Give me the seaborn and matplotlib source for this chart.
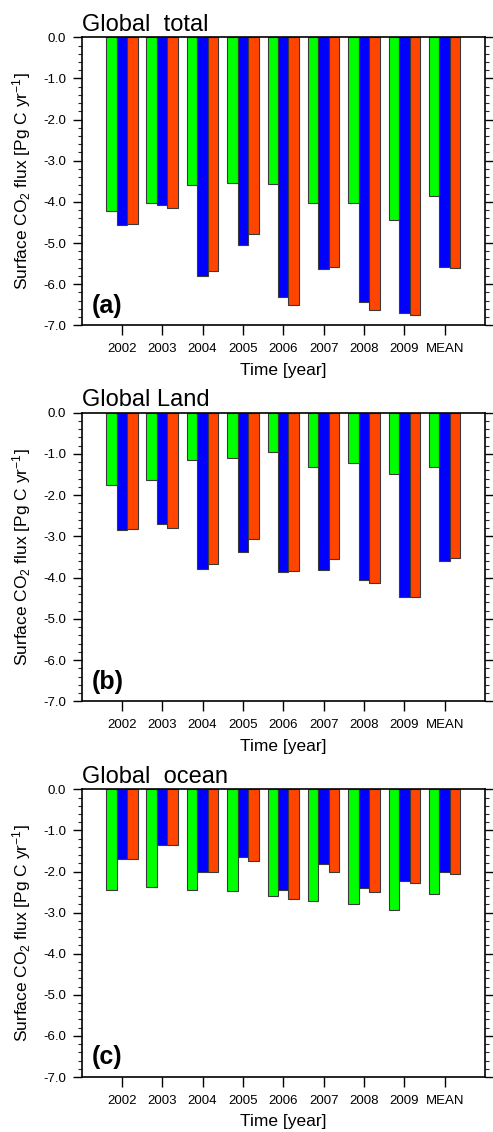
import numpy as np
import pandas as pd
import matplotlib
matplotlib.use("Agg")
import matplotlib.pyplot as plt
import seaborn as sns
from matplotlib.ticker import MultipleLocator, FormatStrFormatter

# ---------------- data ----------------
categories = ["2002", "2003", "2004", "2005", "2006", "2007", "2008", "2009", "MEAN"]
series = ["run1", "run2", "run3"]
colors = ["#00FF00", "#0000FF", "#FF4500"]

total_run1 = [-4.21, -4.02, -3.60, -3.55, -3.56, -4.03, -4.02, -4.43, -3.86]
total_run2 = [-4.57, -4.07, -5.81, -5.04, -6.31, -5.64, -6.44, -6.69, -5.59]
total_run3 = [-4.53, -4.16, -5.69, -4.79, -6.51, -5.58, -6.63, -6.74, -5.60]

land_run1 = [-1.76, -1.63, -1.15, -1.09, -0.96, -1.31, -1.23, -1.49, -1.31]
land_run2 = [-2.85, -2.71, -3.80, -3.37, -3.87, -3.82, -4.06, -4.47, -3.60]
land_run3 = [-2.83, -2.80, -3.68, -3.06, -3.84, -3.56, -4.12, -4.47, -3.52]

ocean_run1 = [-2.45, -2.38, -2.45, -2.47, -2.60, -2.71, -2.79, -2.93, -2.55]
ocean_run2 = [-1.70, -1.36, -2.02, -1.65, -2.45, -1.82, -2.40, -2.22, -2.00]
ocean_run3 = [-1.70, -1.36, -2.02, -1.74, -2.68, -2.02, -2.51, -2.29, -2.07]

titles = ["Global  total", "Global Land", "Global  ocean"]
panel_labels = ["(a)", "(b)", "(c)"]
yticks = [0.0, -1.0, -2.0, -3.0, -4.0, -5.0, -6.0, -7.0]

panels = [
    (total_run1, total_run2, total_run3),
    (land_run1, land_run2, land_run3),
    (ocean_run1, ocean_run2, ocean_run3),
]

# ---------------- style ----------------
sns.set_theme(style="white")
plt.rcParams['font.family'] = ['Liberation Sans', 'DejaVu Sans']
plt.rcParams['mathtext.fontset'] = 'custom'
plt.rcParams['mathtext.rm'] = 'Liberation Sans'
plt.rcParams['mathtext.it'] = 'Liberation Sans:italic'
plt.rcParams['mathtext.bf'] = 'Liberation Sans:bold'

W, H = 493, 1132
fig = plt.figure(figsize=(W / 100, H / 100), dpi=100)

left_px, right_px = 81.5, 485.0
tops = [37.3, 412.7, 789.3]
bottoms = [325.3, 701.3, 1077.0]

for i, (vals, title, plabel) in enumerate(zip(panels, titles, panel_labels)):
    rect = [left_px / W, 1 - bottoms[i] / H, (right_px - left_px) / W, (bottoms[i] - tops[i]) / H]
    ax = fig.add_axes(rect)
    rows = []
    for s, v in zip(series, vals):
        for c, val in zip(categories, v):
            rows.append({"Year": c, "Flux": val, "Series": s})
    df = pd.DataFrame(rows)
    sns.barplot(data=df, x="Year", y="Flux", hue="Series", order=categories,
                hue_order=series, palette=colors, saturation=1, width=0.78,
                edgecolor="#3a3a3a", linewidth=0.8, legend=False, ax=ax)

    ax.set_xlim(-1, 9)
    ax.set_ylim(-7, 0)
    ax.set_yticks(yticks)
    ax.yaxis.set_major_formatter(FormatStrFormatter("%.1f"))
    ax.yaxis.set_minor_locator(MultipleLocator(0.2))

    for sp in ax.spines.values():
        sp.set_visible(True)
        sp.set_color("black")
        sp.set_linewidth(1.2)

    ax.tick_params(axis="y", which="major", direction="out", length=6.5, width=1.0,
                   left=True, right=True, labelleft=True, labelright=False,
                   labelsize=9.5, pad=4.5, colors="black")
    ax.tick_params(axis="y", which="minor", direction="out", length=3.2, width=0.8,
                   left=True, right=True)
    ax.tick_params(axis="x", which="major", direction="out", length=7, width=1.0,
                   bottom=True, top=False, labelsize=9.5, pad=6, colors="black")
    ax.tick_params(axis="x", which="minor", bottom=False, top=False)

    ax.set_title(title, loc="left", fontsize=17, pad=4.5, color="black")
    ax.set_xlabel("Time [year]", fontsize=12.5, color="black")
    ax.set_ylabel(r"Surface CO$_2$ flux [Pg C yr$^{-1}$]", fontsize=12.5, color="black")
    ax.yaxis.set_label_coords(-0.12, 0.5)
    ax.xaxis.set_label_coords(0.5, -0.13)
    ax.xaxis.label.set_va("top")

    ax.text(0.026, 0.044, plabel, transform=ax.transAxes, fontsize=18,
            fontweight="bold", ha="left", va="baseline", color="black")

fig.savefig("out.png", dpi=100, facecolor="white")
